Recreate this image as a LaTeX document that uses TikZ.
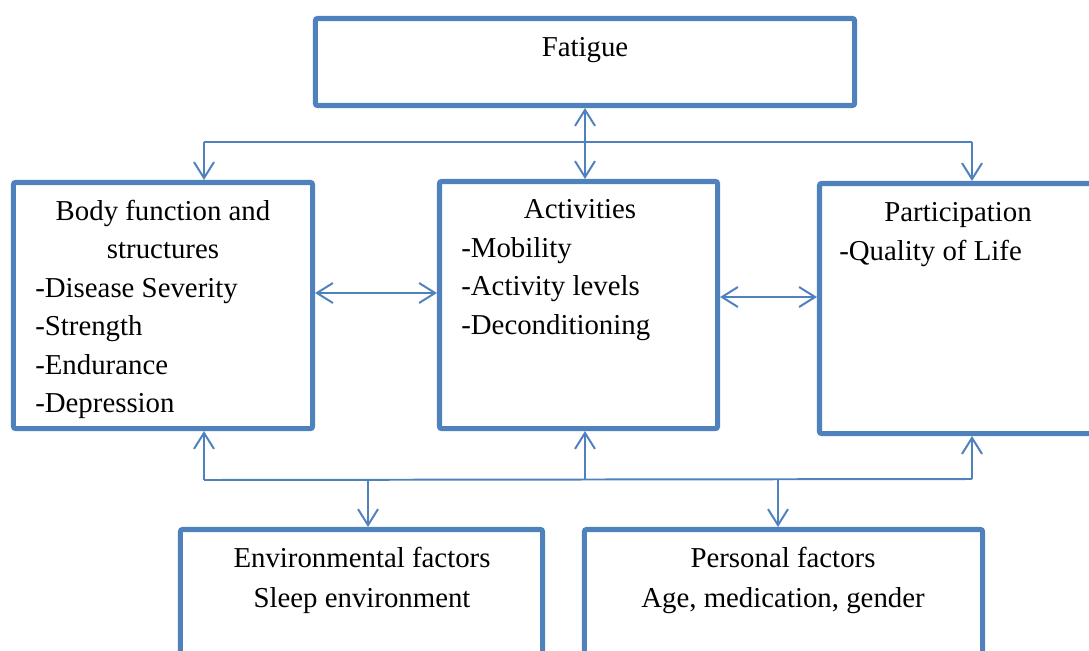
\documentclass[tikz,border=0pt]{standalone}
\usepackage{fontspec}
\setmainfont{Liberation Serif}
\usetikzlibrary{arrows.meta, positioning}
\definecolor{wordblue}{RGB}{79,129,189}

\begin{document}
\begin{tikzpicture}[
  x=0.025cm, y=-0.025cm,
  font=\fontsize{20.5}{24}\selectfont,
  box/.style={draw=wordblue, line width=3.6pt, rounded corners=1.5pt, inner sep=0pt},
  txt/.style={anchor=base, inner sep=0pt},
  item/.style={anchor=base west, inner sep=0pt},
  link/.style={draw=wordblue, line width=1.4pt},
  arrow/.style={link, -{Straight Barb[length=4mm, width=5mm]}},
  twoway/.style={link, {Straight Barb[length=4mm, width=5mm]}-{Straight Barb[length=4mm, width=5mm]}}
]
\useasboundingbox (0,0) rectangle (1089,650);
% boxes
\node[box, minimum width=13.475cm, minimum height=2.175cm] (fatigue) at (585,62) {};
\node[box, minimum width=7.475cm, minimum height=6.15cm] (body) at (163,305.5) {};
\node[box, minimum width=6.95cm, minimum height=6.175cm] (act) at (578.5,305) {};
\node[box, minimum width=6.925cm, minimum height=6.25cm] (part) at (958,308.5) {};
\node[box, minimum width=9.05cm, minimum height=4cm] (env) at (361.5,609.5) {};
\node[box, minimum width=9.95cm, minimum height=4cm] (pers) at (783.5,609.5) {};

% texts
\node[txt] (fatiguetxt) at (585,57) {Fatigue};
\node[txt] (bodytitle) at (163,220) {Body function and};
\node[txt] (bodytitle2) at (163,258.5) {structures};
\foreach \t [count=\i] in {Disease Severity, Strength, Endurance, Depression}
  \node[item] (body\i) at (35,258.5+38.5*\i) {-\t};
\node[txt] (acttitle) at (580,218) {Activities};
\foreach \t [count=\i] in {Mobility, Activity levels, Deconditioning}
  \node[item] (act\i) at (461,218.5+38.5*\i) {-\t};
\node[txt] (parttitle) at (958,221) {Participation};
\node[item] (part1) at (839,260) {-Quality of Life};
\node[txt] (envtitle) at (362,567) {Environmental factors};
\node[txt] (envtxt) at (362,607) {Sleep environment};
\node[txt] (perstitle) at (783,567) {Personal factors};
\node[txt] (perstxt) at (783,607) {Age, medication, gender};

% top links
\coordinate (topleft) at (204,142);
\coordinate (topright) at (972,142);
\draw[link] (topleft) -- (topright);
\draw[arrow] (topleft) -- (topleft |- body.north);
\draw[arrow] (topright) -- (topright |- part.north);
\draw[twoway] (fatigue.south) -- (fatigue.south |- act.north);

% side links
\coordinate (mid1) at (376,293);
\coordinate (mid2) at (768,297);
\draw[twoway] (mid1 -| body.east) -- (mid1 -| act.west);
\draw[twoway] (mid2 -| act.east) -- (mid2 -| part.west);

% bottom links
\coordinate (botleft) at (204,480);
\coordinate (botright) at (972,479);
\coordinate (botact) at (585,480);
\coordinate (botenv) at (368,480);
\coordinate (botpers) at (778,480);
\draw[link] (botleft) -- (botright);
\draw[arrow] (botleft) -- (botleft |- body.south);
\draw[arrow] (botact) -- (botact |- act.south);
\draw[arrow] (botright) -- (botright |- part.south);
\draw[arrow] (botenv) -- (botenv |- env.north);
\draw[arrow] (botpers) -- (botpers |- pers.north);
\end{tikzpicture}
\end{document}
